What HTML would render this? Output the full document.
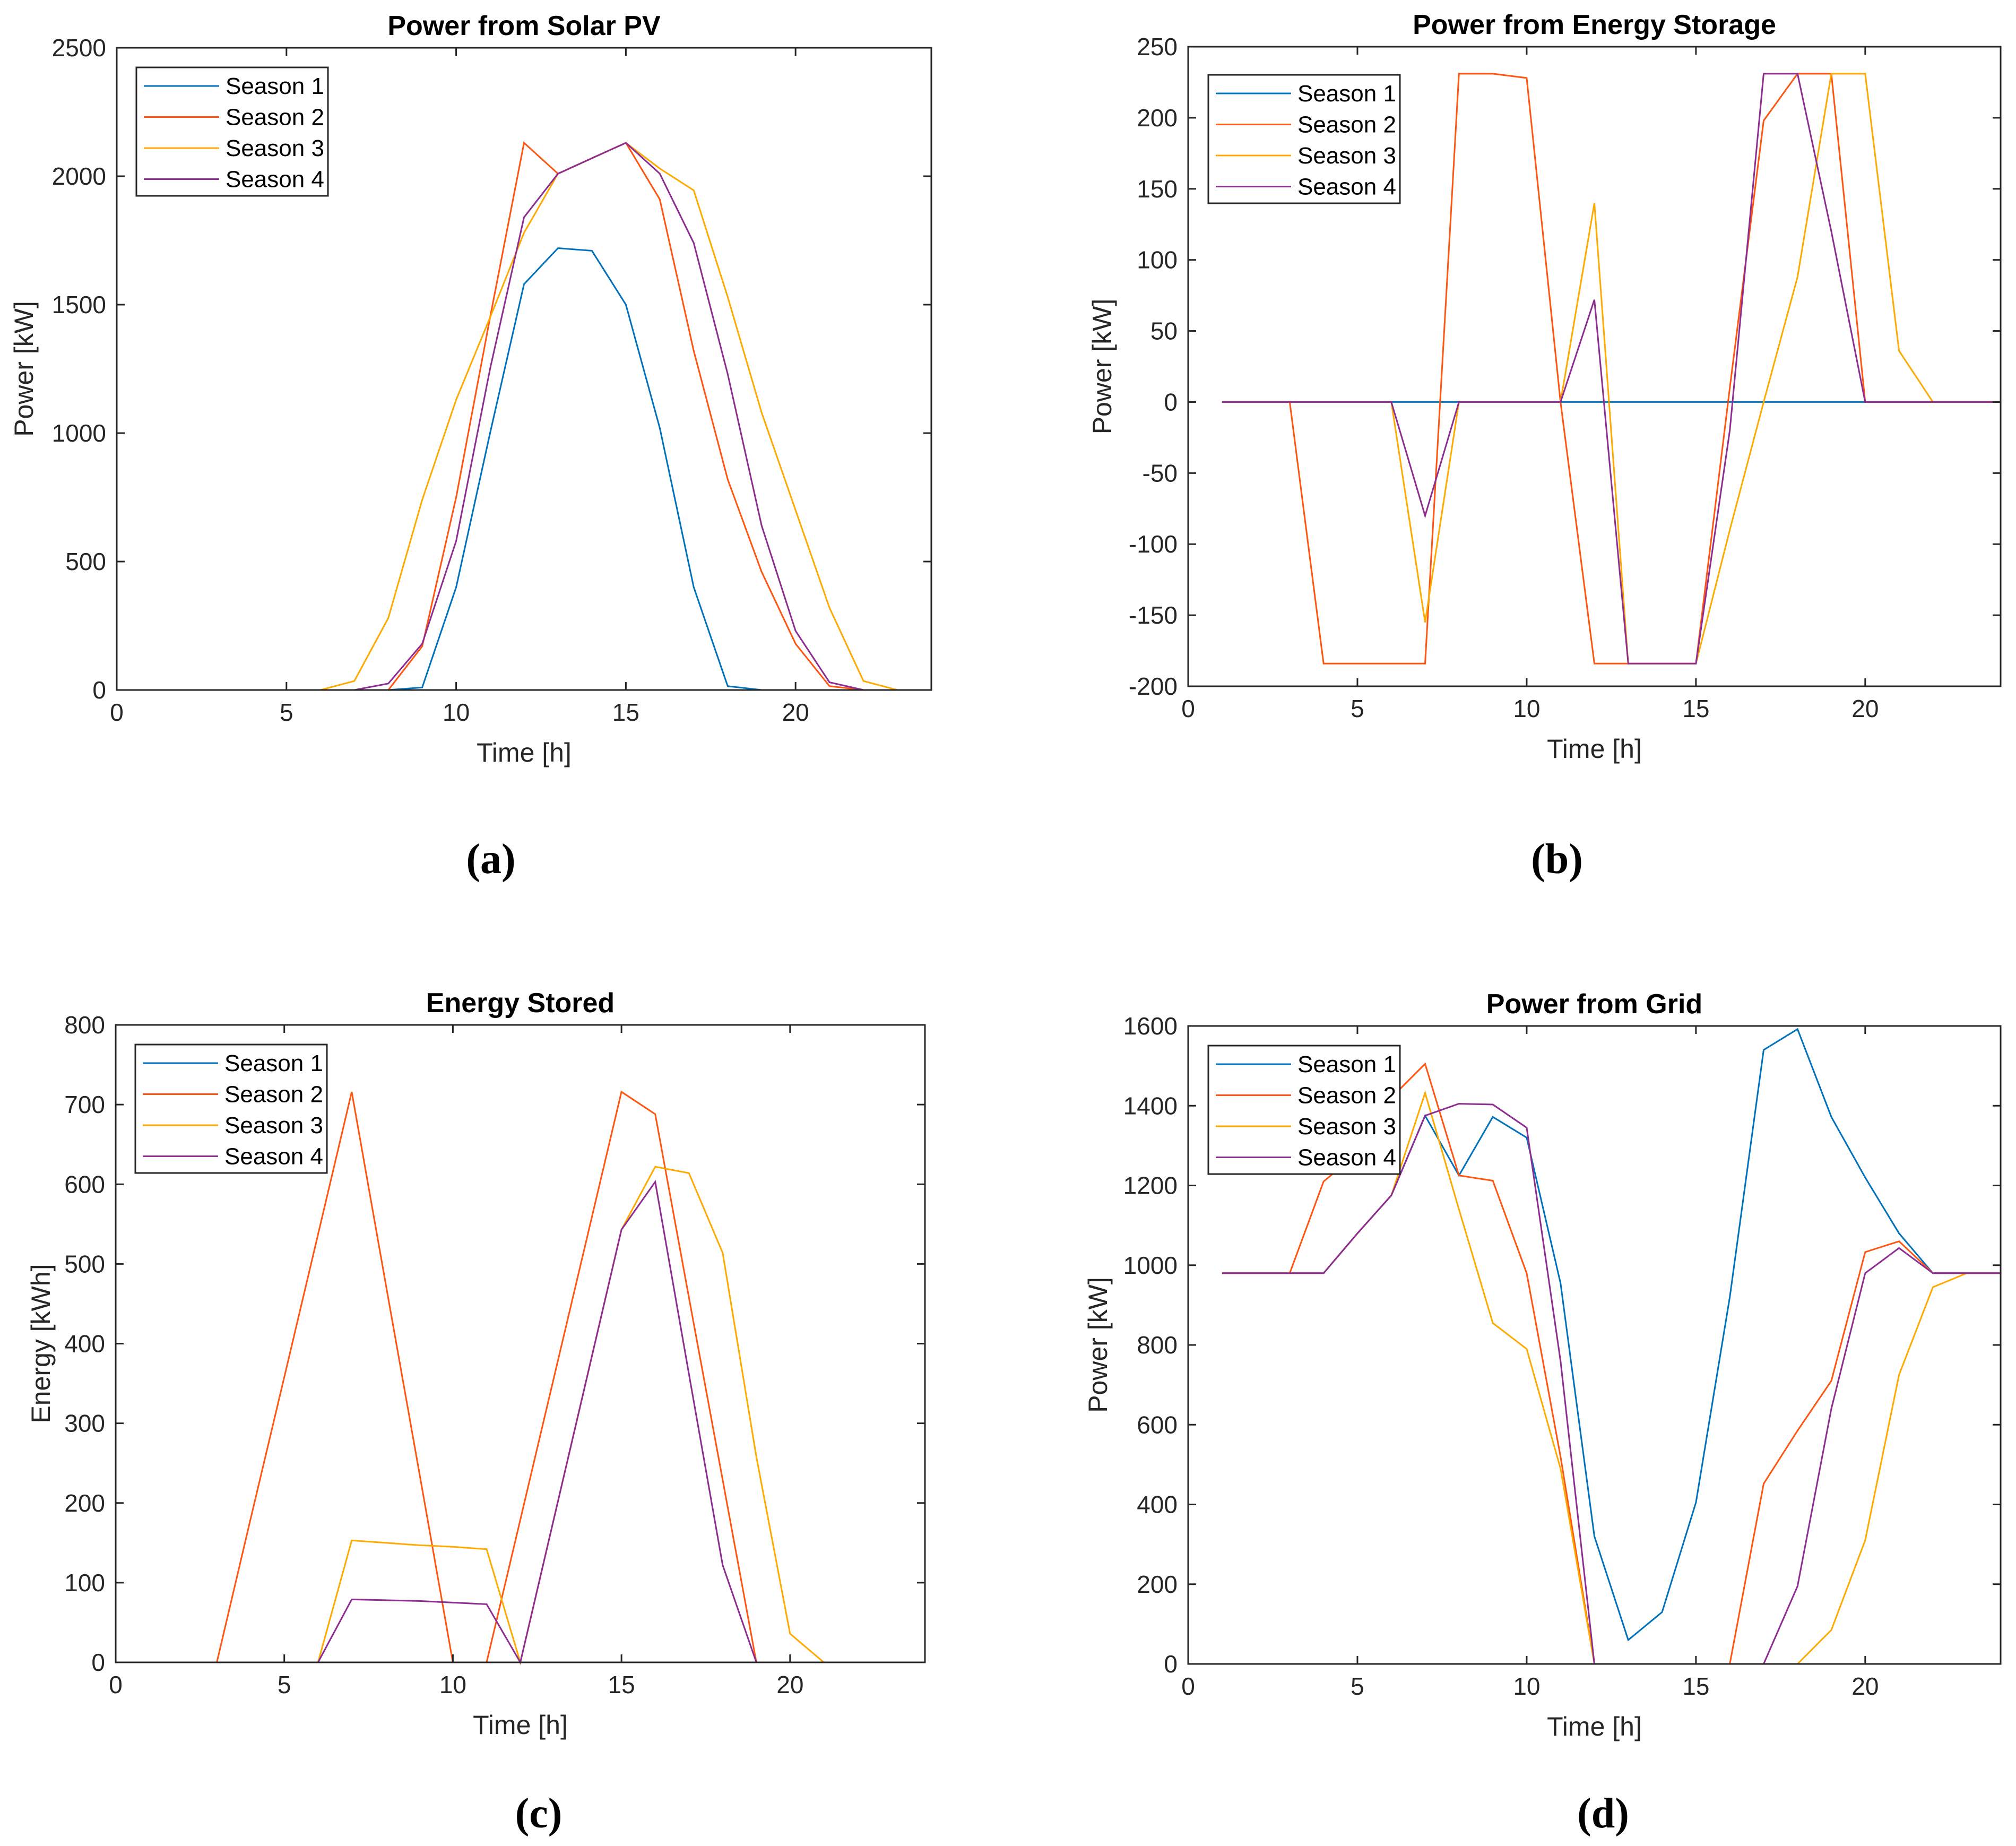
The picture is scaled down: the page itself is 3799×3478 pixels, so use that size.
<!DOCTYPE html>
<html><head><meta charset="utf-8"><style>
html,body{margin:0;padding:0;background:#fff;}
svg{display:block;font-family:"Liberation Sans",Arial,sans-serif;}
</style></head><body>
<svg id="fig" width="3799" height="3478" viewBox="0 0 3799 3478" xmlns="http://www.w3.org/2000/svg"></svg>
<script>
const hours=[1,2,3,4,5,6,7,8,9,10,11,12,13,14,15,16,17,18,19,20,21,22,23,24];
const seriesNames=["Season 1","Season 2","Season 3","Season 4"];
const xTicks=[0,5,10,15,20];
// Panel a: Solar PV
const pvS1=[0,0,0,0,0,0,0,0,10,400,1000,1580,1720,1710,1500,1020,400,15,0,0,0,0,0,0];
const pvS2=[0,0,0,0,0,0,0,0,170,750,1450,2130,2010,2070,2130,1910,1320,820,460,180,15,0,0,0];
const pvS3=[0,0,0,0,0,0,35,280,740,1130,1450,1780,2010,2070,2130,2030,1945,1530,1080,700,320,35,0,0];
const pvS4=[0,0,0,0,0,0,0,25,180,580,1250,1840,2010,2070,2130,2010,1740,1230,640,230,30,0,0,0];
const pvTicks=[0,500,1000,1500,2000,2500];
// Panel b: Energy storage power
const esS1=[0,0,0,0,0,0,0,0,0,0,0,0,0,0,0,0,0,0,0,0,0,0,0,0];
const esS2=[0,0,0,-184,-184,-184,-184,231,231,228,0,-184,-184,-184,-184,10,198,231,231,0,0,0,0,0];
const esS3=[0,0,0,0,0,0,-155,0,0,0,0,140,-184,-184,-184,-90,0,88,231,231,36,0,0,0];
const esS4=[0,0,0,0,0,0,-80,0,0,0,0,72,-184,-184,-184,-20,231,231,120,0,0,0,0,0];
const esTicks=[-200,-150,-100,-50,0,50,100,150,200,250];
// Panel c: Energy stored
const enS1=[0,0,0,0,0,0,0,0,0,0,0,0,0,0,0,0,0,0,0,0,0,0,0,0];
const enS2=[0,0,0,180,358,537,716,477,239,0,0,179,358,537,716,688,458,229,0,0,0,0,0,0];
const enS3=[0,0,0,0,0,0,153,150,147,145,142,0,181,362,543,622,614,514,258,36,0,0,0,0];
const enS4=[0,0,0,0,0,0,79,78,77,75,73,0,181,362,543,603,362,122,0,0,0,0,0,0];
const enTicks=[0,100,200,300,400,500,600,700,800];
// Panel d: Grid power
const grS1=[980,980,980,980,1080,1175,1375,1225,1372,1320,955,320,60,130,405,920,1540,1592,1372,1220,1080,980,980,980];
const grS2=[980,980,980,1210,1280,1420,1505,1225,1212,980,520,0,0,0,0,0,452,585,710,1033,1060,980,980,980];
const grS3=[980,980,980,980,1080,1175,1432,1140,855,790,490,0,0,0,0,0,0,0,85,310,725,945,980,980];
const grS4=[980,980,980,980,1080,1175,1375,1405,1403,1345,760,0,0,0,0,0,0,195,640,980,1043,980,980,980];
const grTicks=[0,200,400,600,800,1000,1200,1400,1600];

const colors=["#0072BD","#FF5511","#FFAA00","#8E2D91"];
const NS="http://www.w3.org/2000/svg";
const svg=document.getElementById("fig");
function mk(tag,attrs,parent){const e=document.createElementNS(NS,tag);for(const k in attrs)e.setAttribute(k,attrs[k]);(parent||svg).appendChild(e);return e;}

function panel(p){
  const g=mk("g",{});
  
  
  const sx=v=>p.L+(v-0)/(24-0)*(p.R-p.L);
  const sy=v=>p.B-(v-p.ymin)/(p.ymax-p.ymin)*(p.B-p.T);
  p.series.forEach((s,i)=>{
    const pts=hours.map((h,j)=>sx(h).toFixed(1)+","+sy(s[j]).toFixed(1)).join(" ");
    const pl=mk("polyline",{points:pts,fill:"none",stroke:colors[i],"stroke-width":3,"stroke-linejoin":"miter"},g);
    
    
  });
  const box=mk("rect",{x:p.L,y:p.T,width:p.R-p.L,height:p.B-p.T,fill:"none",stroke:"#262626","stroke-width":3},g);
  
  
  xTicks.forEach(t=>{
    const x=sx(t);
    mk("line",{x1:x,y1:p.B,x2:x,y2:p.B-15,stroke:"#262626","stroke-width":3},g);
    mk("line",{x1:x,y1:p.T,x2:x,y2:p.T+15,stroke:"#262626","stroke-width":3},g);
    const tx=mk("text",{x:x,y:p.B+58,"font-size":46,fill:"#262626","text-anchor":"middle"},g);
    tx.textContent=t;
    
    
  });
  p.yt.forEach(t=>{
    const y=sy(t);
    mk("line",{x1:p.L,y1:y,x2:p.L+15,y2:y,stroke:"#262626","stroke-width":3},g);
    mk("line",{x1:p.R,y1:y,x2:p.R-15,y2:y,stroke:"#262626","stroke-width":3},g);
    const tx=mk("text",{x:p.L-20,y:y+16,"font-size":46,fill:"#262626","text-anchor":"end"},g);
    tx.textContent=t;
    
    
  });
  const ti=mk("text",{x:(p.L+p.R)/2,y:p.T-24,"font-size":52,"font-weight":"bold",fill:"#000","text-anchor":"middle"},g);
  ti.textContent=p.title;
  
  
  const xl=mk("text",{x:(p.L+p.R)/2,y:p.B+135,"font-size":50,fill:"#262626","text-anchor":"middle"},g);
  xl.textContent="Time [h]";
  
  
  const yl=mk("text",{x:0,y:0,"font-size":50,fill:"#262626","text-anchor":"middle",transform:"translate("+(p.ylx)+","+((p.T+p.B)/2)+") rotate(-90)"},g);
  yl.textContent=p.ylabel;
  
  
  const cap=mk("text",{x:p.capX,y:p.capY,"font-size":80,"font-weight":"bold","font-family":"Liberation Serif, serif",fill:"#000","text-anchor":"middle"},g);
  cap.textContent=p.cap;
  
  
  const lg=mk("g",{},g);
  
  
  mk("rect",{x:p.lgX,y:p.lgY,width:361,height:242,fill:"#fff",stroke:"#262626","stroke-width":3},lg);
  seriesNames.forEach((n,i)=>{
    const y=p.lgY+35+i*58.5;
    const ln=mk("line",{x1:p.lgX+14,y1:y,x2:p.lgX+156,y2:y,stroke:colors[i],"stroke-width":3},lg);
    
    
    const t=mk("text",{x:p.lgX+168,y:y+15,"font-size":44,fill:"#000"},lg);
    t.textContent=n;
    
    
  });
}
panel({id:"solar-pv",L:220,R:1755,T:90,B:1300,ymin:0,ymax:2500,yt:pvTicks,series:[pvS1,pvS2,pvS3,pvS4],title:"Power from Solar PV",ylabel:"Power [kW]",ylx:62,cap:"(a)",capX:925,capY:1645,lgX:257,lgY:127});
panel({id:"energy-storage",L:2239,R:3770,T:88,B:1293,ymin:-200,ymax:250,yt:esTicks,series:[esS1,esS2,esS3,esS4],title:"Power from Energy Storage",ylabel:"Power [kW]",ylx:2094,cap:"(b)",capX:2934,capY:1645,lgX:2277,lgY:141});
panel({id:"energy-stored",L:218,R:1743,T:1931,B:3132,ymin:0,ymax:800,yt:enTicks,series:[enS1,enS2,enS3,enS4],title:"Energy Stored",ylabel:"Energy [kWh]",ylx:94,cap:"(c)",capX:1015,capY:3443,lgX:255,lgY:1968});
panel({id:"grid",L:2239,R:3770,T:1933,B:3135,ymin:0,ymax:1600,yt:grTicks,series:[grS1,grS2,grS3,grS4],title:"Power from Grid",ylabel:"Power [kW]",ylx:2086,cap:"(d)",capX:3021,capY:3443,lgX:2277,lgY:1970});
</script>
</body></html>
